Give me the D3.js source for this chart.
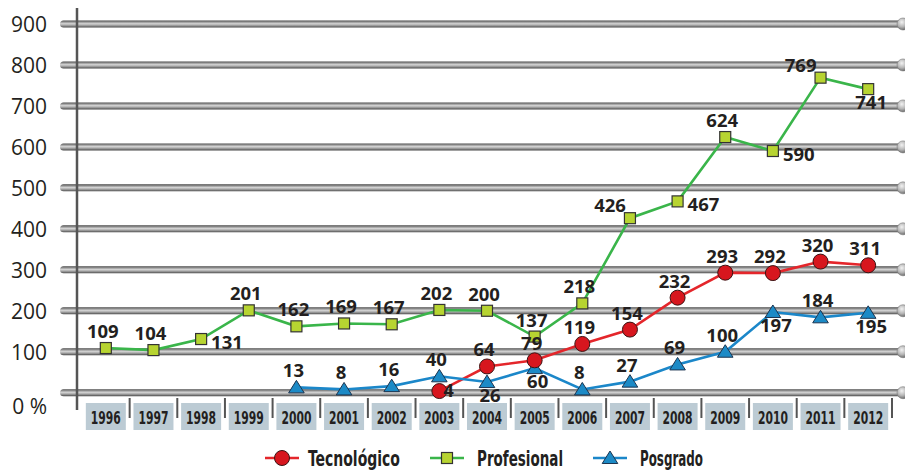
<!DOCTYPE html>
<html>
<head>
<meta charset="utf-8">
<script src="https://cdn.jsdelivr.net/npm/d3@7/dist/d3.min.js"></script>
<style>
  html, body { margin: 0; padding: 0; background: #fff; }
  svg { display: block; }
</style>
</head>
<body>
<svg id="chart" width="905" height="473"></svg>
<script>
// Years on the horizontal axis
const years = ["1996","1997","1998","1999","2000","2001","2002","2003","2004","2005","2006","2007","2008","2009","2010","2011","2012"];

// Series values (null = no value for that year)
const tecnologico = [null,null,null,null,null,null,null,4,64,79,119,154,232,293,292,320,311];
const profesional = [109,104,131,201,162,169,167,202,200,137,218,426,467,624,590,769,741];
const posgrado    = [null,null,null,null,13,8,16,40,26,60,8,27,69,100,197,184,195];

// Vertical axis ticks and their labels
const yTicks = [0,100,200,300,400,500,600,700,800,900];
const yTickLabels = ["0 %","100","200","300","400","500","600","700","800","900"];

const seriesNames = ["Tecnológico","Profesional","Posgrado"];

// Where each value label sits relative to its marker
const placeTec  = [null,null,null,null,null,null,null,"in","a","a","a","a","a","a","a","a","a"];
const placePro  = ["a","a","r","a","a","a","a","a","a","a","a","l","r","a","r","l","b"];
const placePos  = [null,null,null,null,"a","a","a","a","b","b","a","a","a","a","b","a","b"];

const svg = d3.select("#chart");
const defs = svg.append("defs");

const x = d3.scaleBand().domain(years).range([82, 892]).padding(0);
const y = d3.scaleLinear().domain([0, 900]).range([392.7, 24]);
const cx = d => x(d) + x.bandwidth() / 2;

const condensed = "'DejaVu Sans Condensed', 'DejaVu Sans', sans-serif";

// Metallic tube gradient for the grid lines
const tube = defs.append("linearGradient").attr("id", "tube")
  .attr("x1", 0).attr("y1", 0).attr("x2", 0).attr("y2", 1);
[["0%","#474747"],["22%","#959595"],["45%","#d2d2d2"],["60%","#b8b8b8"],["82%","#838383"],["100%","#444"]]
  .forEach(([o,c]) => tube.append("stop").attr("offset", o).attr("stop-color", c));
const ball = defs.append("radialGradient").attr("id", "ball")
  .attr("cx", "40%").attr("cy", "35%").attr("r", "65%");
[["0%","#f2f2f2"],["60%","#b5b5b5"],["100%","#6e6e6e"]]
  .forEach(([o,c]) => ball.append("stop").attr("offset", o).attr("stop-color", c));

// Grid tubes with a ball on the right end
const grid = svg.append("g");
grid.selectAll("rect").data(yTicks).join("rect")
  .attr("x", 60).attr("y", d => y(d) - 3.5)
  .attr("width", 845).attr("height", 7).attr("rx", 3.5)
  .attr("fill", "url(#tube)");
grid.selectAll("circle").data(yTicks).join("circle")
  .attr("cx", 903).attr("cy", d => y(d)).attr("r", 6)
  .attr("fill", "url(#ball)").attr("stroke", "#7a7a7a").attr("stroke-width", 0.6);

// Vertical axis line
svg.append("line").attr("x1", 77).attr("x2", 77).attr("y1", 8).attr("y2", 410)
  .attr("stroke", "#555").attr("stroke-width", 2.5);

// Y tick labels
const yAxis = svg.append("g").attr("transform", "translate(47,0)")
  .call(d3.axisLeft(y).tickValues(yTicks).tickSize(0).tickPadding(0)
    .tickFormat((d, i) => yTickLabels[i]));
yAxis.select(".domain").remove();
yAxis.selectAll("text")
  .attr("font-family", "'Open Sans', sans-serif").attr("font-size", 21)
  .attr("fill", "#231f20").attr("dy", d => d === 0 ? "1.0em" : "0.36em");

// Year boxes and separators
const cat = svg.append("g");
cat.selectAll("rect").data(years).join("rect")
  .attr("x", d => cx(d) - 20).attr("y", 403).attr("width", 40).attr("height", 27)
  .attr("fill", "#bccbd4");
cat.selectAll("line").data(years.slice(1).concat(["end"])).join("line")
  .attr("x1", d => d === "end" ? 892 : x(d)).attr("x2", d => d === "end" ? 892 : x(d))
  .attr("y1", 398).attr("y2", 418).attr("stroke", "#555").attr("stroke-width", 2);

const xAxis = svg.append("g").attr("transform", "translate(0,417)")
  .call(d3.axisBottom(x).tickSize(0).tickPadding(0));
xAxis.select(".domain").remove();
xAxis.selectAll("text")
  .attr("dy", "0.36em")
  .attr("font-family", condensed)
  .attr("font-weight", "bold").attr("font-size", 18.5).attr("fill", "#231f20")
  .attr("textLength", 30).attr("lengthAdjust", "spacingAndGlyphs");

// Series definitions
const series = [
  { name: seriesNames[0], values: tecnologico, place: placeTec, line: "#e4262b", shape: "circle", fill: "#d7161e", stroke: "#3b1414" },
  { name: seriesNames[1], values: profesional, place: placePro, line: "#3ab54a", shape: "square", fill: "#b7d431", stroke: "#333" },
  { name: seriesNames[2], values: posgrado,    place: placePos, line: "#1b87c9", shape: "triangle", fill: "#1c8ac6", stroke: "#1d3550" }
];

function drawMarker(g, shape, fill, stroke) {
  if (shape === "circle") {
    g.append("circle").attr("r", 7.5).attr("fill", fill).attr("stroke", stroke).attr("stroke-width", 1);
  } else if (shape === "square") {
    g.append("rect").attr("x", -5.5).attr("y", -5.5).attr("width", 11).attr("height", 11)
      .attr("fill", fill).attr("stroke", stroke).attr("stroke-width", 1.2);
  } else {
    g.append("path").attr("d", "M0,-7L7.8,5.5L-7.8,5.5Z")
      .attr("fill", fill).attr("stroke", stroke).attr("stroke-width", 1);
  }
}

// Lines (drawn first so markers sit on top)
series.forEach(s => {
  const pts = years.map((yr, i) => ({ yr, v: s.values[i] })).filter(p => p.v !== null);
  svg.append("path").datum(pts)
    .attr("fill", "none").attr("stroke", s.line).attr("stroke-width", 2.6)
    .attr("d", d3.line().x(p => cx(p.yr)).y(p => y(p.v)));
});
// Draw order: Profesional, Posgrado, Tecnológico markers
[1, 2, 0].forEach(k => {
  const s = series[k];
  years.forEach((yr, i) => {
    const v = s.values[i];
    if (v === null) return;
    const g = svg.append("g").attr("transform", `translate(${cx(yr)},${y(v)})`);
    drawMarker(g, s.shape, s.fill, s.stroke);
  });
});

// Value labels
const labelOffsets = {
  a:  { dx: -3, dy: -10, anchor: "middle" },
  b:  { dx: 3,  dy: 20,  anchor: "middle" },
  r:  { dx: 10, dy: 10,  anchor: "start" },
  l:  { dx: -4, dy: -6,  anchor: "end" },
  in: { dx: 4,  dy: 6,   anchor: "start" }
};
const labels = svg.append("g");
series.forEach(s => {
  years.forEach((yr, i) => {
    const v = s.values[i];
    if (v === null) return;
    const o = labelOffsets[s.place[i]];
    labels.append("text")
      .attr("x", cx(yr) + o.dx).attr("y", y(v) + o.dy)
      .attr("text-anchor", o.anchor)
      .attr("font-family", "'Open Sans', sans-serif").attr("font-weight", "bold")
      .attr("font-size", 18.5).attr("fill", "#231f20")
      .text(v);
  });
});

// Legend
const legendPos = [{ lx: 265, tx: 308, w: 92 }, { lx: 430, tx: 477, w: 86 }, { lx: 593, tx: 640, w: 63 }];
series.forEach((s, k) => {
  const p = legendPos[k];
  const g = svg.append("g").attr("transform", `translate(0,458)`);
  g.append("line").attr("x1", p.lx).attr("x2", p.lx + 34).attr("y1", 0).attr("y2", 0)
    .attr("stroke", s.line).attr("stroke-width", 2.6);
  const m = g.append("g").attr("transform", `translate(${p.lx + 17},0)`);
  drawMarker(m, s.shape, s.fill, s.stroke);
  g.append("text").attr("x", p.tx).attr("y", 0).attr("dy", "0.36em")
    .attr("font-family", condensed)
    .attr("font-weight", "bold").attr("font-size", 21).attr("fill", "#231f20")
    .attr("textLength", p.w).attr("lengthAdjust", "spacingAndGlyphs")
    .text(s.name);
});
</script>
</body>
</html>
